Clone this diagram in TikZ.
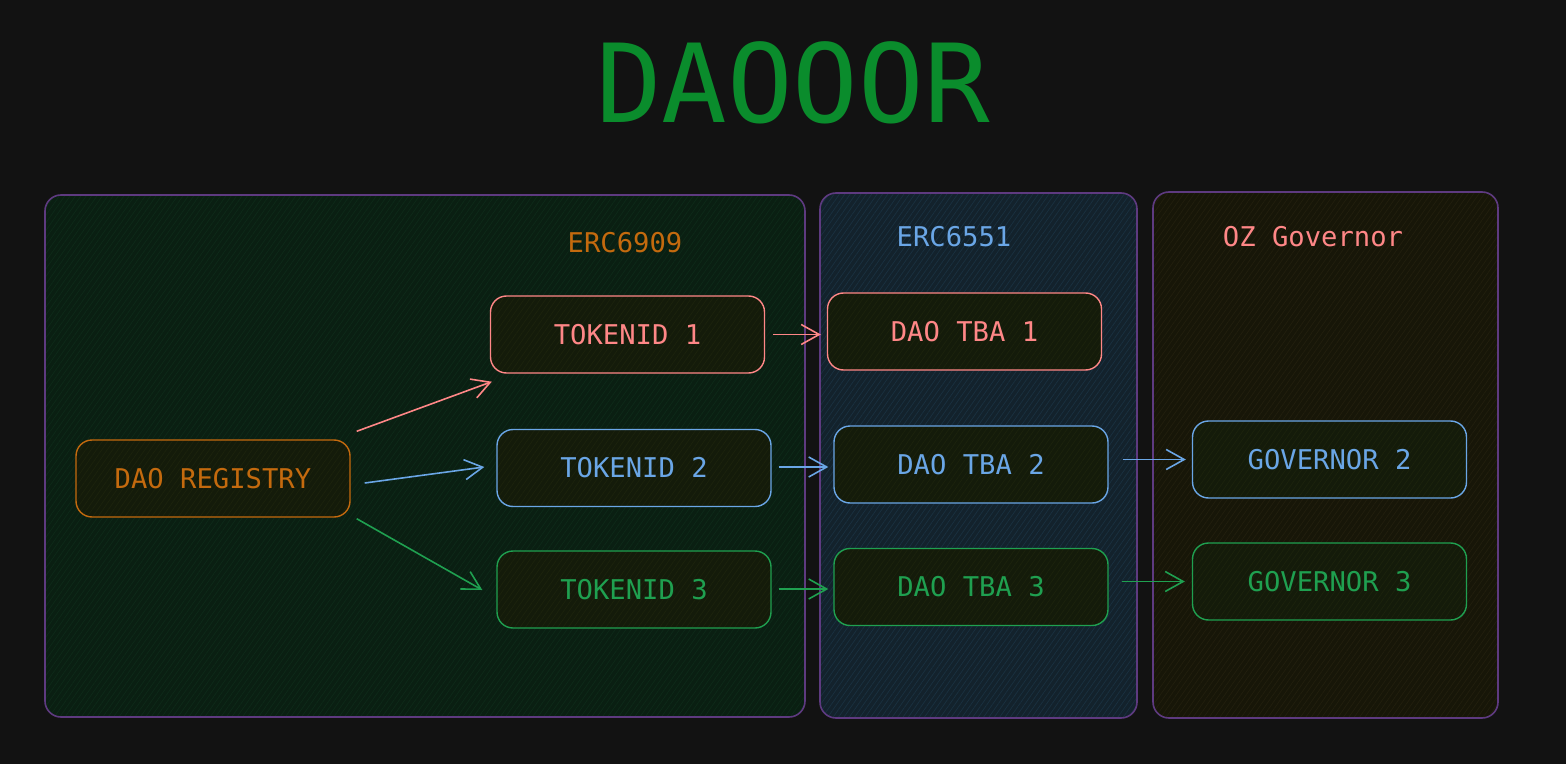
\documentclass[tikz,border=0pt]{standalone}
\usepackage{fontspec}
\setmonofont{DejaVu Sans Mono}
\usetikzlibrary{arrows.meta,patterns.meta,calc}
\definecolor{bg}{HTML}{121212}
\definecolor{titlegreen}{HTML}{0A8C2C}
\definecolor{cgreen}{HTML}{0A1F12}
\definecolor{cgreenh}{HTML}{0E2A19}
\definecolor{cblue}{HTML}{13222C}
\definecolor{cblueh}{HTML}{1A3140}
\definecolor{cbrown}{HTML}{171608}
\definecolor{cbrownh}{HTML}{221F0E}
\definecolor{cpurple}{HTML}{5E3A80}
\definecolor{nfill}{HTML}{141B0A}
\definecolor{nhatch}{HTML}{1C230D}
\definecolor{cpink}{HTML}{FF8787}
\definecolor{cbluel}{HTML}{6AA6E6}
\definecolor{cgreenl}{HTML}{1FA050}
\definecolor{corange}{HTML}{C46A0E}
\begin{document}
\begin{tikzpicture}[x=0.5pt,y=-0.5pt,
  container/.style={draw=cpurple, line width=0.8pt, rounded corners=8pt, inner sep=0pt},
  box/.style={draw=#1, text=#1, line width=0.7pt, rounded corners=8pt,
    minimum width=137pt, minimum height=38.5pt, inner sep=0pt,
    preaction={fill=nfill},
    pattern={Lines[angle=55,distance=2.2pt,line width=0.35pt]}, pattern color=nhatch,
    font=\fontsize{13.6pt}{16pt}\ttfamily},
  lbl/.style={text=#1, font=\fontsize{13.6pt}{16pt}\ttfamily, inner sep=0pt},
  conn/.style={draw=#1, line width=0.8pt, -{Straight Barb[length=9pt,width=10pt]}}
]
\fill[bg] (0,0) rectangle (1566,764);
\useasboundingbox (0,0) rectangle (1566,764);

% title
\node[text=titlegreen, font=\fontsize{54.5pt}{60pt}\ttfamily, inner sep=0pt] (title) at (793,83) {DAOOOR};

% containers
\node[container, minimum width=380pt, minimum height=261pt,
  preaction={fill=cgreen}, pattern={Lines[angle=55,distance=2.2pt,line width=0.35pt]}, pattern color=cgreenh]
  (erc6909) at (425,456) {};
\node[container, minimum width=158.5pt, minimum height=262.5pt,
  preaction={fill=cblue}, pattern={Lines[angle=55,distance=2.2pt,line width=0.35pt]}, pattern color=cblueh]
  (erc6551) at (978.5,455.5) {};
\node[container, minimum width=172.5pt, minimum height=263pt,
  preaction={fill=cbrown}, pattern={Lines[angle=55,distance=2.2pt,line width=0.35pt]}, pattern color=cbrownh]
  (oz) at (1325.5,455) {};

% container labels
\node[lbl=corange] (l6909) at (625,243) {ERC6909};
\node[lbl=cbluel] (l6551) at (954,237) {ERC6551};
\node[lbl=cpink] (loz) at (1313,237) {OZ Governor};

% boxes
\node[box=corange] (reg) at (213,478.5) {DAO REGISTRY};
\node[box=cpink] (t1) at (627.5,334.5) {TOKENID 1};
\node[box=cbluel] (t2) at (634,468) {TOKENID 2};
\node[box=cgreenl] (t3) at (634,589.5) {TOKENID 3};
\node[box=cpink] (tba1) at (964.5,331.5) {DAO TBA 1};
\node[box=cbluel] (tba2) at (971,464.5) {DAO TBA 2};
\node[box=cgreenl] (tba3) at (971,587) {DAO TBA 3};
\node[box=cbluel] (gov2) at (1329.5,459.5) {GOVERNOR 2};
\node[box=cgreenl] (gov3) at (1329.5,581.5) {GOVERNOR 3};

% connectors
\draw[conn=cpink] ($(reg.north east)+(6,-8)$) -- ($(t1.south west)+(2,8)$);
\draw[conn=cbluel] ($(reg.east)+(14,4.5)$) -- ($(t2.west)+(-12,-1)$);
\draw[conn=cgreenl] ($(reg.south east)+(6,1)$) -- ($(t3.west)+(-14,0.5)$);
\draw[conn=cpink] ($(t1.east)+(8,0)$) -- ($(t1.east -| tba1.west)+(-6,0)$);
\draw[conn=cbluel] ($(t2.east)+(7,-1)$) -- ($(t2.east -| tba2.west)+(-5,-1)$);
\draw[conn=cgreenl] ($(t3.east)+(7,-0.5)$) -- ($(t3.east -| tba3.west)+(-5,-0.5)$);
\draw[conn=cbluel] ($(gov2.west -| tba2.east)+(14,0)$) -- ($(gov2.west)+(-6,0)$);
\draw[conn=cgreenl] ($(gov3.west -| tba3.east)+(13,0)$) -- ($(gov3.west)+(-7,0)$);
\end{tikzpicture}
\end{document}
